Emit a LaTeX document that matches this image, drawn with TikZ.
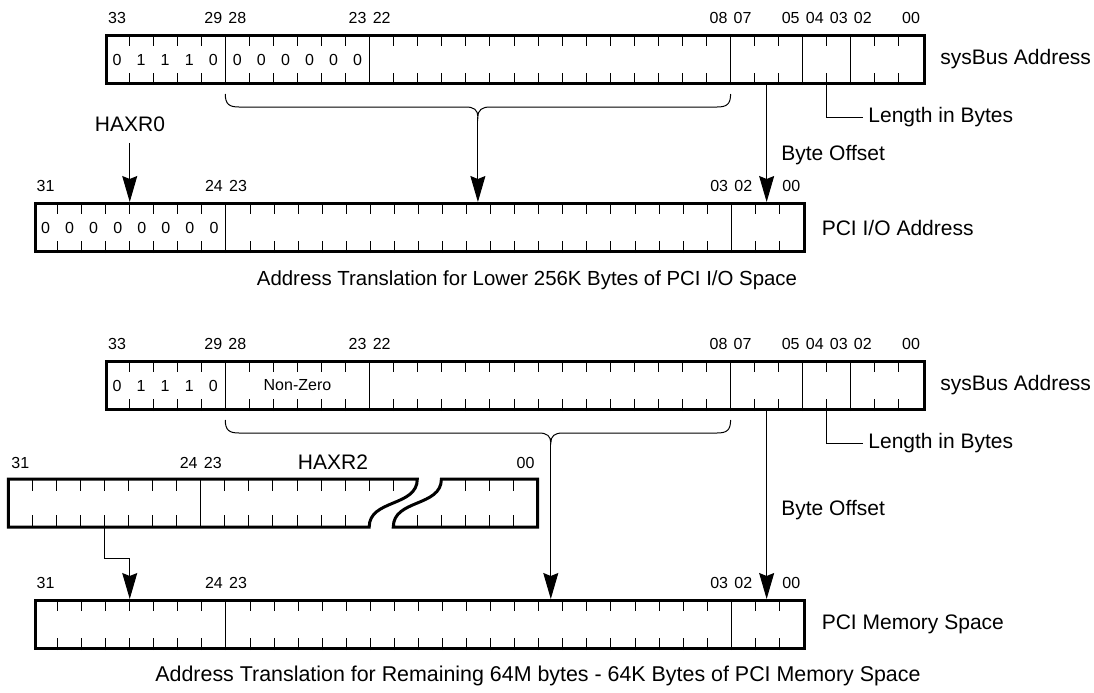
\documentclass[tikz,border=0pt]{standalone}
\usepackage{fontspec}
\setmainfont{Liberation Sans}
\usepackage{tikz}
\usetikzlibrary{arrows.meta, positioning, calc}

\begin{document}
\begin{tikzpicture}[x=0.5pt, y=-0.5pt,
  reg/.style={draw, line width=1.5pt, inner sep=0pt, anchor=north west, minimum height=24pt},
  bittick/.style={draw=black, line width=0.5pt},
  conn/.style={draw=black, line width=0.5pt},
  arr/.style={conn, -{Stealth[length=13pt, width=7.5pt, inset=1.5pt]}},
  bitnum/.style={font=\fontsize{8}{9}\selectfont, inner sep=0pt},
  lbl/.style={font=\fontsize{10.5}{12}\selectfont, inner sep=0pt, anchor=west},
  captext/.style={font=\fontsize{10.2}{12}\selectfont, inner sep=0pt}]
  \useasboundingbox (0,0) rectangle (1094,692);

  % sysBus registers, 34 bits
  \foreach \nm/\yy in {sbA/34, sbB/360} {
    \node[reg, minimum width=409.02pt] (\nm) at (105,\yy) {};
    \foreach \k in {1,...,33}
      \draw[bittick] ($(\nm.north west)+(\k*24.06,0)$) -- ++(0,12)
                     ($(\nm.south west)+(\k*24.06,0)$) -- ++(0,-12);
    \foreach \k in {5,11,26,29,31}
      \draw[bittick] ($(\nm.north west)+(\k*24.06,0)$) -- ($(\nm.south west)+(\k*24.06,0)$);
    \foreach \c/\lab in {0/33, 4/29, 5/28, 10/23, 11/22, 25/08, 26/07, 28/05, 29/04, 30/03, 31/02, 33/00}
      \node[bitnum] (\nm-n\c) at ($(\nm.north west)+({(\c+0.5)*24.06},-16)$) {\lab};
    \foreach \c/\v in {0/0, 1/1, 2/1, 3/1, 4/0}
      \node[bitnum] (\nm-v\c) at ($(\nm.west)+({(\c+0.5)*24.06},0)$) {\v};
    \node[lbl] (\nm-lbl) at ($(\nm.east)+(14,0)$) {sysBus Address};
  }
  \foreach \c in {5,...,10}
    \node[bitnum] (sbA-v\c) at ($(sbA.west)+({(\c+0.5)*24.06},0)$) {0};
  \node[bitnum] (sbB-nz) at ($(sbB.west)+(8*24.06,0)$) {Non-Zero};

  % PCI registers, 32 bits
  \foreach \nm/\yy in {pioA/202, pmB/599} {
    \node[reg, minimum width=384.96pt] (\nm) at (33.5,\yy) {};
    \foreach \k in {1,...,31}
      \draw[bittick] ($(\nm.north west)+(\k*24.06,0)$) -- ++(0,12)
                     ($(\nm.south west)+(\k*24.06,0)$) -- ++(0,-12);
    \foreach \k in {8,29}
      \draw[bittick] ($(\nm.north west)+(\k*24.06,0)$) -- ($(\nm.south west)+(\k*24.06,0)$);
    \foreach \c/\lab in {0/31, 7/24, 8/23, 28/03, 29/02, 31/00}
      \node[bitnum] (\nm-n\c) at ($(\nm.north west)+({(\c+0.5)*24.06},-16)$) {\lab};
  }
  \foreach \c in {0,...,7}
    \node[bitnum] (pioA-v\c) at ($(pioA.west)+({(\c+0.5)*24.06},0)$) {0};
  \node[lbl] (pioA-lbl) at ($(pioA.east)+(15,0)$) {PCI I/O Address};
  \node[lbl] (pmB-lbl) at ($(pmB.east)+(15,0)$) {PCI Memory Space};

  % HAXR2, drawn with a break
  \draw[line width=1.5pt] (369.2,527) .. controls (369.2,499) and (417.3,507) .. (417.3,479)
    -- (8.3,479) -- (8.3,527) -- cycle;
  \draw[line width=1.5pt] (393.3,527) .. controls (393.3,499) and (441.4,507) .. (441.4,479)
    -- (537.6,479) -- (537.6,527) -- cycle;
  \foreach \k in {1,2,3,4,5,6,7,9,10,11,12,13,14,15,16,19,20,21}
    \draw[bittick] ({8.3+\k*24.06},479) -- ++(0,12);
  \foreach \k in {1,2,3,4,5,6,7,9,10,11,12,13,14,17,18,19,20,21}
    \draw[bittick] ({8.3+\k*24.06},527) -- ++(0,-12);
  \draw[bittick] ({8.3+8*24.06},479) -- ({8.3+8*24.06},527);
  \foreach \c/\lab in {0/31, 7/24, 8/23, 21/00}
    \node[bitnum] (hx-n\c) at ({8.3+(\c+0.5)*24.06},463) {\lab};
  \node[lbl, anchor=center] (haxr2) at (333,462) {HAXR2};

  % Braces over bits 28..08
  \coordinate (brA) at (477.9,117);
  \draw[conn] (225.3,94) .. controls (225.3,104) and (229,107) .. (239,107) -- (466,107)
    .. controls (474,107) and (477.9,110) .. (brA)
    .. controls (477.9,110) and (482,107) .. (490,107) -- (717,107)
    .. controls (727,107) and (730.6,104) .. (730.6,94);
  \coordinate (brB) at (550.8,443);
  \draw[conn] (225.3,420) .. controls (225.3,430) and (229,433) .. (239,433) -- (539,433)
    .. controls (547,433) and (550.8,436) .. (brB)
    .. controls (550.8,436) and (554.6,433) .. (562.6,433) -- (717,433)
    .. controls (727,433) and (730.6,430) .. (730.6,420);
  \draw[arr] (brA) -- (brA |- pioA.north);
  \draw[arr] (brB) -- (brB |- pmB.north);

  % Byte offset
  \coordinate (offA) at ($(sbA.south west)+(27.5*24.06,0)$);
  \coordinate (offB) at ($(sbB.south west)+(27.5*24.06,0)$);
  \draw[arr] (offA) -- (offA |- pioA.north);
  \draw[arr] (offB) -- (offB |- pmB.north);
  \node[lbl] (offA-lbl) at (781,155) {Byte Offset};
  \node[lbl] (offB-lbl) at (781,510) {Byte Offset};

  % Length in bytes
  \coordinate (lenA) at ($(sbA.south west)+(30*24.06,0)$);
  \coordinate (lenB) at ($(sbB.south west)+(30*24.06,0)$);
  \node[lbl] (lenA-lbl) at (868,117) {Length in Bytes};
  \node[lbl] (lenB-lbl) at (868,443) {Length in Bytes};
  \draw[conn, shorten >=2.5pt] (lenA) |- (lenA-lbl.west);
  \draw[conn, shorten >=2.5pt] (lenB) |- (lenB-lbl.west);

  % HAXR0 and HAXR2 feeds
  \node[lbl, anchor=center] (haxr0) at (130,124) {HAXR0};
  \coordinate (pioA28) at ($(pioA.north west)+(4*24.06,0)$);
  \draw[arr, shorten <=5.5pt] (haxr0.south -| pioA28) -- (pioA28);
  \coordinate (hx28) at ({8.3+4*24.06},527);
  \coordinate (pmB28) at ($(pmB.north west)+(4*24.06,0)$);
  \draw[arr] (hx28) -- ++(0,31) -| (pmB28);

  % Captions
  \node[captext] (capA) at (527,280) {Address Translation for Lower 256K Bytes of PCI I/O Space};
  \node[captext, font=\fontsize{10.7}{12}\selectfont] (capB) at (538,676) {Address Translation for Remaining 64M bytes - 64K Bytes of PCI Memory Space};
\end{tikzpicture}
\end{document}
